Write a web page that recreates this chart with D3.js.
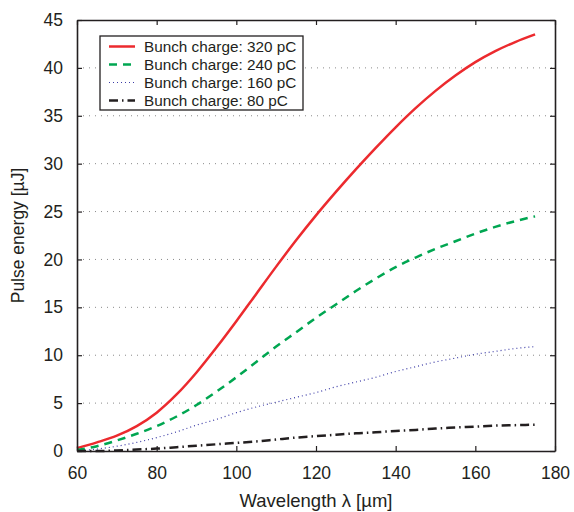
<!DOCTYPE html>
<html>
<head>
<meta charset="utf-8">
<script src="https://cdn.jsdelivr.net/npm/d3@7"></script>
<style>
  body { margin: 0; background: #fff; }
  text { font-family: "Liberation Sans", Arial, sans-serif; fill: #231f20; }
</style>
</head>
<body>
<div id="chart"></div>
<script>
  // wavelength (um)
  var wavelength = [60,65,70,75,80,85,90,95,100,105,110,115,120,125,130,135,140,145,150,155,160,165,170,175];
  // pulse energy (uJ) per bunch charge
  var e320 = [0.3,0.9,1.6,2.6,4.0,5.9,8.2,10.8,13.55,16.4,19.25,22.0,24.6,27.05,29.4,31.65,33.8,35.8,37.6,39.2,40.6,41.75,42.7,43.5];
  var e240 = [0.1,0.5,1.1,1.8,2.6,3.6,4.8,6.2,7.7,9.3,10.9,12.4,13.9,15.3,16.7,18.0,19.2,20.2,21.1,21.9,22.7,23.4,24.0,24.5];
  var e160 = [0.0,0.2,0.5,0.9,1.4,2.0,2.7,3.3,4.0,4.6,5.1,5.6,6.1,6.7,7.2,7.7,8.3,8.8,9.3,9.7,10.1,10.4,10.7,10.9];
  var e80  = [0.0,0.0,0.05,0.15,0.25,0.4,0.55,0.7,0.85,1.0,1.2,1.4,1.55,1.7,1.85,1.95,2.1,2.2,2.35,2.45,2.55,2.65,2.7,2.75];
  var seriesNames = ["Bunch charge: 320 pC","Bunch charge: 240 pC","Bunch charge: 160 pC","Bunch charge: 80 pC"];
  var xTicks = [60,80,100,120,140,160,180];
  var yTicks = [0,5,10,15,20,25,30,35,40,45];

  var styles = [
    {color:"#ec2a2e", width:2.5, dash:null},
    {color:"#00a651", width:2.5, dash:"8,6"},
    {color:"#3b3ba6", width:1.2, dash:"1,3"},
    {color:"#231f20", width:2.5, dash:"9,4,1.5,4"}
  ];
  var allSeries = [e320, e240, e160, e80];

  var W = 574, H = 512;
  var m = {left:77, right:19, top:20, bottom:61};
  var iw = W - m.left - m.right, ih = H - m.top - m.bottom;

  var svg = d3.select("#chart").append("svg")
    .attr("width", W).attr("height", H);

  var x = d3.scaleLinear().domain([60,180]).range([0, iw]);
  var y = d3.scaleLinear().domain([0,45]).range([ih, 0]);

  var g = svg.append("g").attr("transform","translate("+m.left+","+m.top+")");

  //网格线
  g.selectAll(".grid").data(yTicks.slice(1, -1)).enter().append("line")
    .attr("x1",0).attr("x2",iw)
    .attr("y1",function(d){return y(d);}).attr("y2",function(d){return y(d);})
    .style("stroke","#8a8a8a").style("stroke-width",1)
    .style("stroke-dasharray","1,5");

  //曲线
  var line = d3.line()
    .x(function(d,i){return x(wavelength[i]);})
    .y(function(d){return y(d);})
    .curve(d3.curveMonotoneX);

  g.selectAll(".series").data(allSeries).enter().append("path")
    .attr("d", line)
    .style("fill","none")
    .style("stroke",function(d,i){return styles[i].color;})
    .style("stroke-width",function(d,i){return styles[i].width;})
    .style("stroke-dasharray",function(d,i){return styles[i].dash;});

  //坐标轴 (刻度朝内，四边都有)
  var axBottom = g.append("g").attr("transform","translate(0,"+ih+")")
    .call(d3.axisBottom(x).tickValues(xTicks).tickSizeInner(-5).tickSizeOuter(0).tickPadding(16));
  var axTop = g.append("g")
    .call(d3.axisTop(x).tickValues(xTicks).tickSizeInner(-5).tickSizeOuter(0).tickFormat(""));
  var axLeft = g.append("g")
    .call(d3.axisLeft(y).tickValues(yTicks).tickSizeInner(-5).tickSizeOuter(0).tickPadding(14));
  var axRight = g.append("g").attr("transform","translate("+iw+",0)")
    .call(d3.axisRight(y).tickValues(yTicks).tickSizeInner(-5).tickSizeOuter(0).tickFormat(""));

  [axBottom,axTop,axLeft,axRight].forEach(function(a){
    a.selectAll("path").style("stroke","#231f20").style("stroke-width",1.6);
    a.selectAll("line").style("stroke","#231f20").style("stroke-width",1.2);
    a.selectAll("text").style("font-size","17.5px").style("font-family","Liberation Sans, Arial, sans-serif").attr("fill","#231f20");
  });

  //轴标题
  svg.append("text")
    .attr("x", m.left + iw/2).attr("y", 507)
    .attr("text-anchor","middle").style("font-size","18.5px")
    .text("Wavelength λ [µm]");
  svg.append("text")
    .attr("transform","translate(24,"+(m.top+ih/2)+") rotate(-90)")
    .attr("text-anchor","middle").style("font-size","17.5px")
    .text("Pulse energy [µJ]");

  //图例
  var lg = svg.append("g").attr("transform","translate(100,36)");
  lg.append("rect").attr("width",203).attr("height",74)
    .style("fill","#fff").style("stroke","#231f20").style("stroke-width",1.3);
  var item = lg.selectAll(".item").data(seriesNames).enter().append("g")
    .attr("transform",function(d,i){return "translate(0,"+(10.5+i*18)+")";});
  item.append("line")
    .attr("x1",9).attr("x2",35).attr("y1",0).attr("y2",0)
    .style("stroke",function(d,i){return styles[i].color;})
    .style("stroke-width",function(d,i){return styles[i].width;})
    .style("stroke-dasharray",function(d,i){return styles[i].dash;});
  item.append("text")
    .attr("x",44).attr("y",0).attr("dy","0.36em")
    .style("font-size","15.3px")
    .text(function(d){return d;});
</script>
</body>
</html>
